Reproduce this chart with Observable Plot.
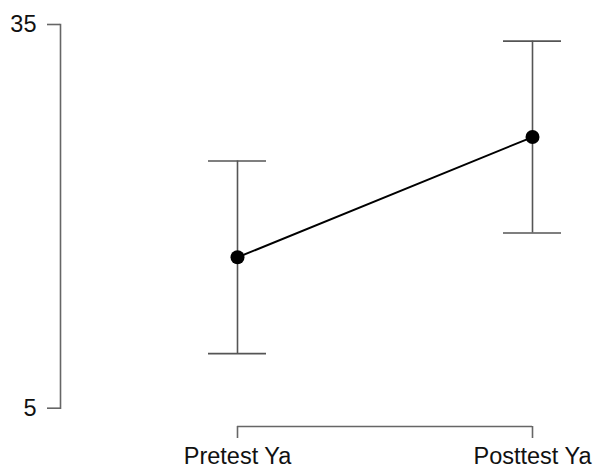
<!DOCTYPE html>
<html>
<head>
<meta charset="utf-8">
<script src="https://cdn.jsdelivr.net/npm/d3@7"></script>
<script src="https://cdn.jsdelivr.net/npm/@observablehq/plot@0.6"></script>
<style>
  html, body { margin: 0; padding: 0; background: #fff; }
  #chart svg { display: block; }
</style>
</head>
<body>
<div id="chart"></div>
<script>
const categories = ["Pretest Ya", "Posttest Ya"];
const means = [16.8, 26.2];
const lower = [9.27, 18.7];
const upper = [24.33, 33.7];
const yTicks = [5, 35];

const data = categories.map((c, i) => ({cat: c, mean: means[i], lo: lower[i], hi: upper[i]}));

const chart = Plot.plot({
  width: 595,
  height: 469,
  marginTop: 24,
  marginBottom: 61.3,
  marginLeft: 60,
  marginRight: 63,
  style: {fontFamily: "'Liberation Sans', Arial, sans-serif", fontSize: "23px", color: "#111", background: "#fff"},
  x: {type: "point", domain: categories, range: [236.7, 531.7], padding: 0},
  y: {domain: [5, 35]},
  marks: [
    Plot.frame({anchor: "left", stroke: "#666", strokeWidth: 1.6}),
    Plot.axisY({ticks: yTicks, tickSize: 13, tickPadding: 11, stroke: "#666", strokeWidth: 1.6, fontSize: 23.5, fill: "#111", label: null}),
    Plot.ruleY([yTicks[0]], {x1: () => categories[0], x2: () => categories[categories.length - 1], dy: 18.3, stroke: "#666", strokeWidth: 1.6}),
    Plot.axisX({tickSize: 12, tickPadding: 8.5, dy: 18.3, stroke: "#666", strokeWidth: 1.6, fontSize: 23.5, fill: "#111", label: null}),
    Plot.ruleX(data, {x: "cat", y1: "lo", y2: "hi", stroke: "#555", strokeWidth: 1.6}),
    Plot.ruleY(data, {x1: "cat", x2: "cat", y: "lo", insetLeft: -29, insetRight: -29, stroke: "#555", strokeWidth: 1.6}),
    Plot.ruleY(data, {x1: "cat", x2: "cat", y: "hi", insetLeft: -29, insetRight: -29, stroke: "#555", strokeWidth: 1.6}),
    Plot.line(data, {x: "cat", y: "mean", stroke: "#000", strokeWidth: 2}),
    Plot.dot(data, {x: "cat", y: "mean", r: 7, fill: "#000", stroke: "none"})
  ]
});
document.getElementById("chart").appendChild(chart);
</script>
</body>
</html>
